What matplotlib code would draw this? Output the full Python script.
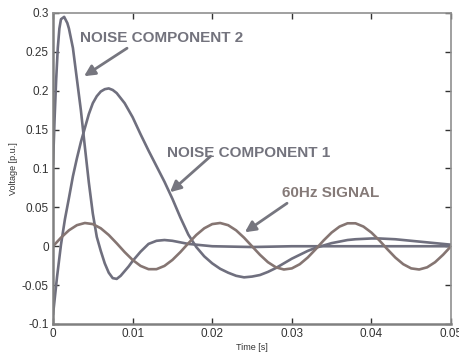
import matplotlib
matplotlib.use("Agg")
import matplotlib.pyplot as plt

# ---------------- data ----------------
t_sig = [i * 0.001 for i in range(51)]
v_sig = [0.0, 0.0110, 0.0205, 0.0271, 0.0299, 0.0285, 0.0231, 0.0145, 0.0038, -0.0075,
         -0.0176, -0.0253, -0.0295, -0.0295, -0.0253, -0.0176, -0.0075, 0.0038, 0.0145, 0.0231,
         0.0285, 0.0299, 0.0271, 0.0205, 0.0110, 0.0, -0.0110, -0.0205, -0.0271, -0.0299,
         -0.0285, -0.0231, -0.0145, -0.0038, 0.0075, 0.0176, 0.0253, 0.0295, 0.0295, 0.0253,
         0.0176, 0.0075, -0.0038, -0.0145, -0.0231, -0.0285, -0.0299, -0.0271, -0.0205, -0.0110,
         0.0]

t_n1 = [0.0, 0.0005, 0.001, 0.0015, 0.002, 0.0025, 0.003, 0.0035, 0.004, 0.0045,
        0.005, 0.0055, 0.006, 0.0065, 0.007, 0.0075, 0.008, 0.009, 0.010, 0.011,
        0.012, 0.013, 0.014, 0.015, 0.016, 0.017, 0.018, 0.019, 0.020, 0.021,
        0.022, 0.023, 0.024, 0.025, 0.026, 0.027, 0.028, 0.029, 0.030, 0.031,
        0.032, 0.033, 0.034, 0.035, 0.036, 0.037, 0.038, 0.039, 0.040, 0.041,
        0.042, 0.043, 0.044, 0.045, 0.046, 0.047, 0.048, 0.049, 0.050]
v_n1 = [-0.088, -0.040, 0.002, 0.035, 0.062, 0.090, 0.113, 0.134, 0.152, 0.170,
        0.184, 0.193, 0.199, 0.202, 0.203, 0.201, 0.197, 0.184, 0.166, 0.144,
        0.123, 0.103, 0.083, 0.061, 0.037, 0.015, -0.001, -0.013, -0.022, -0.029,
        -0.034, -0.038, -0.040, -0.039, -0.037, -0.033, -0.028, -0.022, -0.016, -0.011,
        -0.006, -0.002, 0.001, 0.004, 0.006, 0.008, 0.009, 0.0095, 0.010, 0.010,
        0.0095, 0.009, 0.008, 0.007, 0.006, 0.005, 0.004, 0.003, 0.002]

t_n2 = [0.0, 0.0002, 0.0004, 0.0006, 0.0008, 0.001, 0.0014, 0.0018, 0.002, 0.0025,
        0.003, 0.0035, 0.004, 0.0045, 0.005, 0.0055, 0.006, 0.0065, 0.007, 0.0075,
        0.008, 0.0085, 0.009, 0.0095, 0.010, 0.0105, 0.011, 0.0115, 0.012, 0.013,
        0.014, 0.015, 0.016, 0.017, 0.018, 0.019, 0.020, 0.025, 0.030, 0.040, 0.050]
v_n2 = [0.105, 0.165, 0.215, 0.255, 0.280, 0.292, 0.295, 0.287, 0.280, 0.255,
        0.215, 0.175, 0.128, 0.082, 0.042, 0.012, -0.006, -0.022, -0.034, -0.041,
        -0.042, -0.038, -0.032, -0.026, -0.019, -0.013, -0.007, -0.002, 0.003, 0.007,
        0.008, 0.007, 0.005, 0.003, 0.002, 0.001, 0.0, -0.001, 0.0, 0.0, 0.0]

x_ticks = [0, 0.01, 0.02, 0.03, 0.04, 0.05]
x_labels = ["0", "0.01", "0.02", "0.03", "0.04", "0.05"]
y_ticks = [-0.1, -0.05, 0, 0.05, 0.1, 0.15, 0.2, 0.25, 0.3]
y_labels = ["-0.1", "-0.05", "0", "0.05", "0.1", "0.15", "0.2", "0.25", "0.3"]

# ---------------- figure ----------------
plt.rcParams['font.family'] = ['Liberation Sans', 'DejaVu Sans']
fig = plt.figure(figsize=(4.59, 3.56), dpi=100)
ax = fig.add_axes([0.1155, 0.0899, 0.8671, 0.8736])

c_noise = '#6f6f7e'
c_sig = '#857572'
ax.plot(t_n2, v_n2, color=c_noise, lw=1.9, solid_capstyle='round')
ax.plot(t_n1, v_n1, color=c_noise, lw=1.9, solid_capstyle='round')
ax.plot(t_sig, v_sig, color=c_sig, lw=1.9, solid_capstyle='round')

ax.set_xlim(0, 0.05)
ax.set_ylim(-0.1, 0.3)
ax.set_xticks(x_ticks)
ax.set_xticklabels(x_labels)
ax.set_yticks(y_ticks)
ax.set_yticklabels(y_labels)
ax.tick_params(direction='in', length=4, width=1, color='#333333',
               labelsize=8.5, labelcolor='#333333', top=True, right=True, pad=3)

for side in ['left', 'bottom']:
    ax.spines[side].set_color('#808080')
    ax.spines[side].set_linewidth(1.8)
for side in ['top', 'right']:
    ax.spines[side].set_color('#909090')
    ax.spines[side].set_linewidth(1.2)

ax.set_xlabel('Time [s]', fontsize=6.5, color='#333333', labelpad=2)
ax.set_ylabel('Voltage [p.u.]', fontsize=6.5, color='#333333', labelpad=3)

c_txt = '#73737d'
arrow = dict(arrowstyle='-|>', color='#76767f', lw=2.0, mutation_scale=16,
             shrinkA=0, shrinkB=0)
ax.text(0.0034, 0.268, 'NOISE COMPONENT 2', fontsize=11, fontweight='bold',
        color=c_txt, ha='left', va='center')
ax.annotate('', xy=(0.0039, 0.2187), xytext=(0.0093, 0.2547), arrowprops=arrow)

ax.text(0.0143, 0.1196, 'NOISE COMPONENT 1', fontsize=11, fontweight='bold',
        color=c_txt, ha='left', va='center')
ax.annotate('', xy=(0.0147, 0.0695), xytext=(0.0198, 0.1158), arrowprops=arrow)

ax.text(0.0288, 0.068, '60Hz SIGNAL', fontsize=11, fontweight='bold',
        color='#857a78', ha='left', va='center')
ax.annotate('', xy=(0.0241, 0.018), xytext=(0.0294, 0.0553), arrowprops=arrow)

fig.savefig('out.png', dpi=100)
